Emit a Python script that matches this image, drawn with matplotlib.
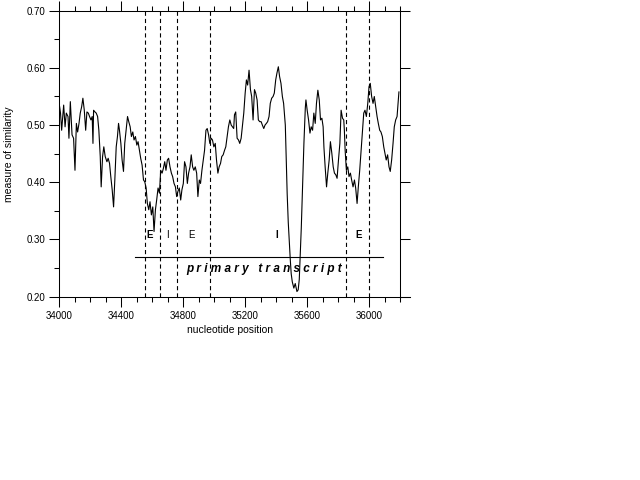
import matplotlib
matplotlib.use('Agg')
import numpy as np
import matplotlib.pyplot as plt

plt.rcParams['font.family'] = ['Liberation Sans', 'DejaVu Sans']
plt.rcParams['lines.scale_dashes'] = False

# similarity profile
position = [34002, 34008, 34015, 34028, 34037, 34045, 34056, 34062, 34071, 34082,
            34092, 34101, 34110, 34118, 34127, 34135, 34144, 34152, 34161, 34170,
            34178, 34187, 34195, 34204, 34212, 34217, 34221, 34230, 34238, 34247,
            34255, 34264, 34270, 34279, 34287, 34296, 34307, 34315, 34324, 34332,
            34341, 34350, 34358, 34367, 34375, 34382, 34388, 34397, 34405, 34414,
            34422, 34431, 34440, 34448, 34457, 34465, 34474, 34482, 34491, 34500,
            34508, 34517, 34525, 34534, 34543, 34551, 34560, 34568, 34577, 34585,
            34594, 34603, 34611, 34620, 34628, 34637, 34646, 34654, 34663, 34671,
            34680, 34688, 34697, 34705, 34714, 34723, 34731, 34740, 34749, 34757,
            34765, 34774, 34783, 34791, 34800, 34808, 34817, 34826, 34834, 34843,
            34851, 34860, 34868, 34877, 34886, 34894, 34903, 34911, 34920, 34929,
            34937, 34946, 34954, 34963, 34971, 34980, 34988, 34997, 35006, 35014,
            35023, 35031, 35040, 35048, 35057, 35066, 35074, 35083, 35091, 35100,
            35109, 35117, 35125, 35130, 35138, 35147, 35156, 35164, 35173, 35181,
            35190, 35199, 35207, 35215, 35224, 35233, 35241, 35250, 35259, 35267,
            35276, 35284, 35293, 35302, 35310, 35319, 35327, 35336, 35344, 35353,
            35361, 35370, 35379, 35387, 35396, 35404, 35413, 35421, 35430, 35439,
            35447, 35458, 35464, 35470, 35477, 35483, 35490, 35496, 35503, 35513,
            35522, 35533, 35541, 35548, 35554, 35561, 35569, 35578, 35587, 35591,
            35599, 35608, 35617, 35625, 35634, 35642, 35651, 35659, 35668, 35677,
            35685, 35694, 35702, 35707, 35715, 35724, 35732, 35741, 35749, 35758,
            35767, 35775, 35784, 35792, 35801, 35810, 35818, 35827, 35835, 35839,
            35844, 35852, 35861, 35869, 35878, 35886, 35895, 35904, 35912, 35921,
            35929, 35938, 35946, 35955, 35964, 35972, 35981, 35990, 35998, 36006,
            36015, 36024, 36032, 36041, 36050, 36058, 36067, 36075, 36084, 36093,
            36101, 36109, 36118, 36127, 36135, 36144, 36153, 36161, 36170, 36179,
            36187, 36191]
similarity = [0.532, 0.520, 0.491, 0.535, 0.497, 0.521, 0.515, 0.477, 0.541, 0.483,
              0.477, 0.421, 0.503, 0.488, 0.503, 0.521, 0.532, 0.547, 0.526, 0.491,
              0.523, 0.521, 0.515, 0.509, 0.515, 0.468, 0.526, 0.523, 0.521, 0.515,
              0.491, 0.445, 0.392, 0.445, 0.462, 0.445, 0.436, 0.442, 0.433, 0.410,
              0.387, 0.357, 0.404, 0.462, 0.480, 0.503, 0.491, 0.468, 0.439, 0.419,
              0.468, 0.491, 0.515, 0.506, 0.497, 0.480, 0.488, 0.474, 0.480, 0.465,
              0.471, 0.456, 0.442, 0.430, 0.404, 0.401, 0.390, 0.363, 0.352, 0.366,
              0.343, 0.357, 0.314, 0.352, 0.369, 0.390, 0.381, 0.421, 0.416, 0.424,
              0.436, 0.421, 0.439, 0.442, 0.427, 0.416, 0.410, 0.398, 0.392, 0.375,
              0.384, 0.390, 0.369, 0.387, 0.398, 0.436, 0.427, 0.398, 0.416, 0.427,
              0.448, 0.427, 0.421, 0.427, 0.416, 0.375, 0.404, 0.398, 0.421, 0.439,
              0.456, 0.491, 0.494, 0.483, 0.468, 0.477, 0.474, 0.462, 0.468, 0.439,
              0.416, 0.427, 0.433, 0.445, 0.448, 0.456, 0.462, 0.480, 0.497, 0.509,
              0.500, 0.497, 0.494, 0.518, 0.523, 0.477, 0.474, 0.468, 0.477, 0.497,
              0.521, 0.556, 0.579, 0.570, 0.596, 0.562, 0.550, 0.509, 0.562, 0.556,
              0.544, 0.509, 0.506, 0.506, 0.500, 0.494, 0.500, 0.503, 0.506, 0.515,
              0.538, 0.547, 0.550, 0.556, 0.579, 0.591, 0.602, 0.585, 0.573, 0.550,
              0.538, 0.500, 0.440, 0.380, 0.330, 0.300, 0.265, 0.240, 0.226, 0.215,
              0.223, 0.209, 0.212, 0.230, 0.270, 0.320, 0.390, 0.468, 0.530, 0.544,
              0.526, 0.509, 0.486, 0.497, 0.491, 0.521, 0.503, 0.538, 0.561, 0.544,
              0.509, 0.512, 0.497, 0.462, 0.427, 0.392, 0.416, 0.439, 0.471, 0.451,
              0.427, 0.416, 0.413, 0.407, 0.439, 0.468, 0.526, 0.512, 0.509, 0.491,
              0.456, 0.421, 0.427, 0.410, 0.416, 0.404, 0.392, 0.404, 0.390, 0.363,
              0.392, 0.421, 0.451, 0.486, 0.521, 0.526, 0.515, 0.538, 0.567, 0.573,
              0.550, 0.538, 0.550, 0.532, 0.515, 0.503, 0.491, 0.488, 0.480, 0.462,
              0.451, 0.439, 0.448, 0.427, 0.419, 0.439, 0.468, 0.497, 0.509, 0.515,
              0.544, 0.558]

# exon / intron boundaries (dashed lines)
boundaries = [34553, 34652, 34760, 34970, 35852, 36000]
region_labels = ['E', 'I', 'E', 'I', 'E']
region_pos = [34583, 34695, 34855, 35402, 35934]
region_bold = [True, False, False, True, True]
label_y = 0.308

transcript_start, transcript_end = 34490, 36090
transcript_y = 0.27
transcript_label_x, transcript_label_y = 35323, 0.248

xticks = [34000, 34400, 34800, 35200, 35600, 36000]
yticks = [0.2, 0.3, 0.4, 0.5, 0.6, 0.7]

fig = plt.figure(figsize=(6.4, 4.8), dpi=100)
ax = fig.add_axes([0.0927, 0.3819, 0.5328, 0.5958])

ax.plot(position, similarity, color='black', lw=0.8)
for b in boundaries:
    ax.axvline(b, color='black', lw=0.8, dashes=(3, 2.2))

ax.plot([transcript_start, transcript_end], [transcript_y, transcript_y], color='black', lw=0.8)
ax.text(transcript_label_x, transcript_label_y, ' '.join('primary') + '   ' + ' '.join('transcript'),
        ha='center', va='center', fontsize=8.5, fontweight='bold', fontstyle='italic')

for lab, xp, bold in zip(region_labels, region_pos, region_bold):
    ax.text(xp, label_y, lab, ha='center', va='center', fontsize=7,
            fontweight='bold' if bold else 'normal')

ax.set_xlim(34000, 36200)
ax.set_ylim(0.2, 0.7)
ax.set_xticks(xticks)
ax.set_xticklabels([str(x) for x in xticks])
ax.set_xticks(np.arange(34000, 36201, 100), minor=True)
ax.set_yticks(yticks)
ax.set_yticklabels([f'{y:.2f}' for y in yticks])
ax.set_yticks(np.arange(0.2, 0.701, 0.05), minor=True)

ax.tick_params(which='both', direction='out', width=0.75, labelsize=7, color='black')
ax.tick_params(which='major', length=7, top=True, right=True, pad=3)
ax.tick_params(which='minor', length=3.8, top=True, right=False)
for s in ax.spines.values():
    s.set_linewidth(0.75)

# bottom axis line runs a little past the right spine
ax.plot([1, 1.028], [0, 0], transform=ax.transAxes, clip_on=False, color='black', lw=0.75)

ax.set_xlabel('nucleotide position', fontsize=7.5, labelpad=3)
ax.set_ylabel('measure of similarity', fontsize=7.5, labelpad=9)

fig.savefig('out.png', dpi=100)
